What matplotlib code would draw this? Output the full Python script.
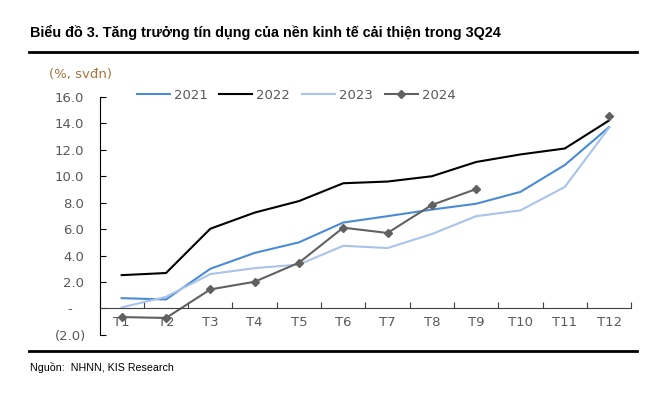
import numpy as np
import matplotlib
matplotlib.use("Agg")
import matplotlib.pyplot as plt
import matplotlib.transforms as mtransforms

# du lieu doc tu bieu do
months = ["T1", "T2", "T3", "T4", "T5", "T6", "T7", "T8", "T9", "T10", "T11", "T12"]
y2021 = [0.78, 0.68, 3.0, 4.2, 5.0, 6.5, 6.98, 7.48, 7.92, 8.82, 10.85, 13.72]
y2022 = [2.52, 2.68, 6.03, 7.25, 8.12, 9.47, 9.6, 10.0, 11.08, 11.65, 12.1, 14.22]
y2023 = [0.08, 0.88, 2.6, 3.05, 3.32, 4.74, 4.57, 5.63, 6.98, 7.42, 9.19, 13.68]
y2024 = [-0.65, -0.72, 1.44, 2.02, 3.46, 6.11, 5.71, 7.83, 9.03, np.nan, np.nan, 14.55]
yticks = [-2, 0, 2, 4, 6, 8, 10, 12, 14, 16]
ytick_labels = ["(2.0)", "-", "2.0", "4.0", "6.0", "8.0", "10.0", "12.0", "14.0", "16.0"]

plt.rcParams['font.family'] = ['DejaVu Sans']

fig = plt.figure(figsize=(6.68, 3.94), dpi=100)
ax = fig.add_axes([0.149, 0.150, 0.796, 0.604])

x = np.arange(len(months))
ax.plot(x, y2021, color="#4a8bd6", lw=1.5, label="2021")
ax.plot(x, y2022, color="black", lw=1.5, label="2022")
ax.plot(x, y2023, color="#a9c3ec", lw=1.5, label="2023")
ax.plot(x, y2024, color="#616161", lw=1.5, marker="D", ms=4, label="2024")

ax.set_xlim(-0.5, 11.5)
ax.set_ylim(-2, 16)

# truc x nam o muc 0, vach chia giua cac thang
ax.spines['bottom'].set_position(('data', 0))
ax.spines['top'].set_visible(False)
ax.spines['right'].set_visible(False)
ax.spines['left'].set_color("black")
ax.spines['bottom'].set_color("#404040")
ax.set_xticks(np.arange(-0.5, 12, 1))
ax.set_xticklabels([])
ax.tick_params(axis='x', direction='in', length=4, color="#404040")
for i, m in enumerate(months):
    ax.text(i, -0.55, m, ha="center", va="top", fontsize=9.5, color="#595959")

# nhan truc y kieu Excel: so duong can phai, "-" o giua
ax.set_yticks(yticks)
ax.set_yticklabels([])
ax.tick_params(axis='y', direction='in', length=4)
trans = mtransforms.blended_transform_factory(ax.transAxes, ax.transData)
for v, lab in zip(yticks, ytick_labels):
    if lab == "-":
        ax.text(-0.0555, v, lab, transform=trans, ha="center", va="center_baseline",
                fontsize=9.5, color="#595959")
    elif lab.startswith("("):
        ax.text(-0.025, v, lab, transform=trans, ha="right", va="center_baseline",
                fontsize=9.5, color="#595959")
    else:
        ax.text(-0.029, v, lab, transform=trans, ha="right", va="center_baseline",
                fontsize=9.5, color="#595959")

ax.legend(loc="upper left", bbox_to_anchor=(0.06, 1.055), borderaxespad=0, ncol=4,
          frameon=False, fontsize=9.5, labelcolor="#595959", handlelength=2.5,
          columnspacing=0.9, handletextpad=0.3)

fig.text(0.121, 0.803, "(%, svđn)", ha="center", fontsize=9.5, color="#a8743f")

# tieu de va duong ke
fig.text(0.045, 0.905, "Biểu đồ 3. Tăng trưởng tín dụng của nền kinh tế cải thiện trong 3Q24",
         fontsize=10.4, fontweight="bold", family=["Liberation Sans", "DejaVu Sans"])
fig.add_artist(plt.Line2D([0.043, 0.953], [0.868, 0.868], color="black", lw=2))
fig.add_artist(plt.Line2D([0.043, 0.953], [0.108, 0.108], color="black", lw=2))
fig.text(0.045, 0.058, "Nguồn:  NHNN, KIS Research", fontsize=7.7,
         family=["Liberation Sans", "DejaVu Sans"])

fig.savefig("out.png", dpi=100)
